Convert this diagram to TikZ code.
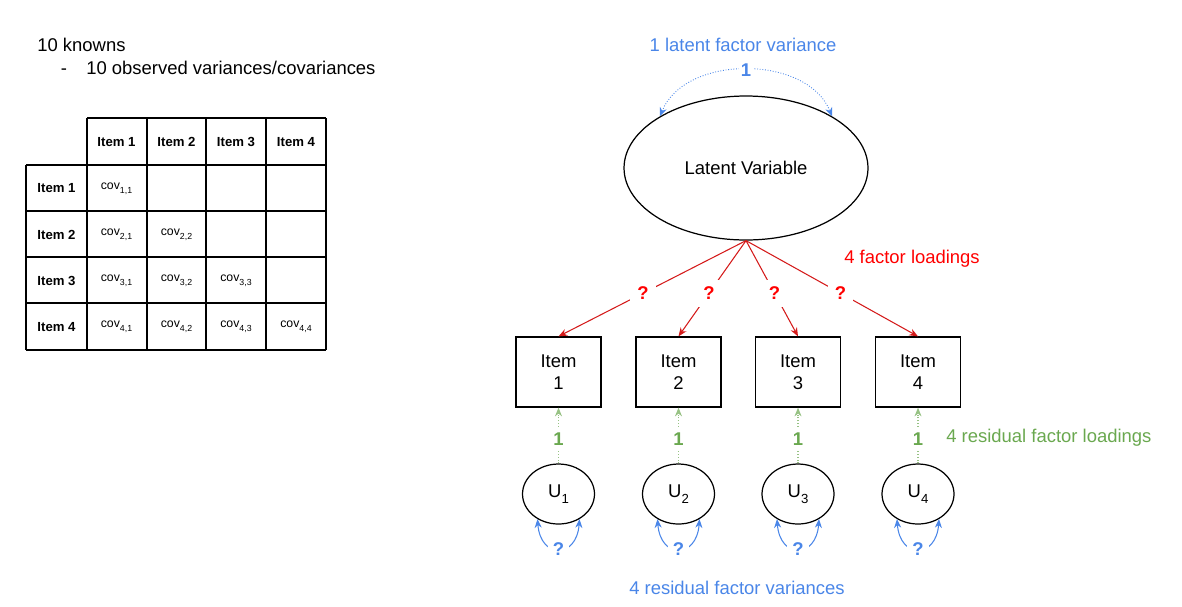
\documentclass[tikz,border=0pt]{standalone}
\usepackage{fontspec}
\setmainfont{Liberation Sans}
\usepackage{tikz}
\usetikzlibrary{positioning,shapes.geometric,arrows.meta}
\definecolor{semblue}{HTML}{4A86E8}
\definecolor{semgreen}{HTML}{6AA84F}
\definecolor{semred}{HTML}{FF0000}
\definecolor{semline}{HTML}{D41A1A}
\newcommand{\covcell}[1]{cov\raisebox{-2.2pt}{\fontsize{5}{6}\selectfont #1}}
\newcommand{\usub}[1]{U\raisebox{-3.2pt}{\fontsize{7.5}{8}\selectfont #1}}

\tikzset{
    latent/.style={ellipse,draw,line width=0.7pt,minimum width=4.88cm,minimum height=2.88cm,inner sep=0pt},
    itembox/.style={rectangle,draw,line width=0.7pt,minimum width=1.7cm,minimum height=1.4cm,align=center,inner sep=0pt},
    resid/.style={ellipse,draw,line width=0.7pt,minimum width=1.44cm,minimum height=1.2cm,inner sep=0pt},
    tabhead/.style={font=\fontsize{7.5}{9}\selectfont\bfseries},
    tabcell/.style={font=\fontsize{7}{8}\selectfont},
    qred/.style={fill=white,inner sep=4pt,text=semred,font=\fontsize{10.5}{12}\selectfont\bfseries},
    qblue/.style={fill=white,inner sep=3pt,text=semblue,font=\fontsize{10.5}{12}\selectfont\bfseries},
    onegreen/.style={fill=white,inner sep=3pt,text=semgreen,font=\fontsize{10.5}{12}\selectfont\bfseries},
    oneblue/.style={fill=white,inner sep=1pt,text=semblue,font=\fontsize{10.5}{12}\selectfont\bfseries},
    plain/.style={inner sep=0pt}
}

\begin{document}
\begin{tikzpicture}[x=0.02cm,y=-0.02cm,
        every node/.style={font=\fontsize{10.5}{12.5}\selectfont}]
    \useasboundingbox (0,0) rectangle (1182,606);

    % knowns and the table
    \node[plain,anchor=west] (known) at (37,45) {10 knowns};
    \node[plain,anchor=west] (obs) at (86,68) {10 observed variances/covariances};
    \node[plain,anchor=base] (dash) at ([xshift=-0.44cm]obs.base west) {-};

    \begin{scope}[line width=0.6pt]
        \draw (87,118) -- (326,118);
        \foreach \y in {165,211,257,303,350}
            \draw (26,\y) -- (326,\y);
        \draw (26,165) -- (26,350);
        \foreach \x in {87,147,206,266,326}
            \draw (\x,118) -- (\x,350);
    \end{scope}

    \foreach \i/\x in {1/116.5,2/176.5,3/236,4/296}
        \node[tabhead] (h\i) at (\x,142) {Item \i};
    \foreach \i/\y in {1/188.5,2/234.5,3/280.5,4/327}
        \node[tabhead] (r\i) at (56.5,\y) {Item \i};
    \foreach \r in {1,...,4}
        \foreach \c in {1,...,\r}
            \node[tabcell] (c\r\c) at (h\c |- r\r) {\covcell{\r,\c}};

    % the model
    \node[latent] (LV) at (746,168) {Latent Variable};
    \foreach \i/\x in {1/558.5,2/678.5,3/798,4/918} {
        \node[itembox] (I\i) at (\x,372) {Item\\\i};
        \node[resid] (U\i) at (\x,494) {\usub{\i}};
    }

    \node[text=semblue] (latlab) at (743,45) {1 latent factor variance};
    \node[plain,text=semred,anchor=west] (loadlab) at (844,259) {4 factor loadings};
    \node[plain,text=semgreen,anchor=west] (reslab) at (946,438) {4 residual factor loadings};
    \node[text=semblue] (varlab) at (737,588) {4 residual factor variances};

    \begin{scope}[>={Stealth[length=5pt,width=4pt]}]
        \draw[semblue,densely dotted,line width=0.5pt,<->] (LV.149) .. controls +(25,-62) and +(-25,-62) .. node[oneblue] {1} (LV.31);
        \foreach \i in {1,...,4} {
            \path[semline,line width=0.6pt,->] (LV.south) edge node[qred,pos=0.55] {?} (I\i.north);
            \path[semgreen!70,densely dotted,line width=0.6pt,->] (U\i.north) edge node[onegreen,pos=0.43] {1} (I\i.south);
            \draw[semblue,line width=0.6pt,<->] (U\i.-130) .. controls +(3,40) and +(-3,40) .. node[qblue] {?} (U\i.-50);
        }
    \end{scope}
\end{tikzpicture}
\end{document}
